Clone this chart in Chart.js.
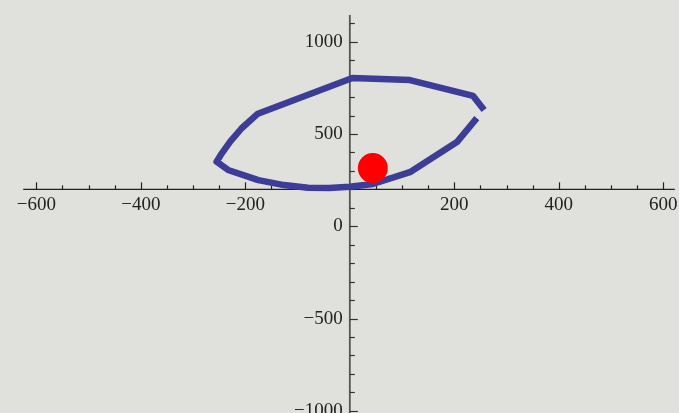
<!DOCTYPE html>
<html>
<head>
<meta charset="utf-8">
<script src="https://cdn.jsdelivr.net/npm/chart.js@4"></script>
<style>
  html, body { margin: 0; padding: 0; background: #e0e1dc; }
  #wrap { width: 679px; height: 413px; position: relative; }
</style>
</head>
<body>
<div id="wrap"><canvas id="chart"></canvas></div>
<script>
// Curve samples (x, y), traced from the upper right end round to the lower right end
const curveX = [257, 236, 115, 5, -176, -207, -229, -245, -255, -233, -175, -126, -80, -40, 0, 44, 115, 205, 243];
const curveY = [630, 706, 792, 803, 610, 531, 458, 395, 350, 305, 250, 223, 209, 207, 214, 229, 293, 456, 586];

// The red marker
const pointX = [44];
const pointY = [315];

// Axis ticks and labels
const xTicks = [-600, -400, -200, 200, 400, 600];
const xTickLabels = ["\u2212600", "\u2212400", "\u2212200", "200", "400", "600"];
const yTicks = [-1000, -500, 0, 500, 1000];
const yTickLabels = ["\u22121000", "\u2212500", "0", "500", "1000"];

const axisOrigin = { x: 0, y: 200 };

// Axes drawn through the chart's own scales, crossing at (0, 200)
const axesPlugin = {
  id: "axes",
  beforeDatasetsDraw(chart) {
    const { ctx } = chart;
    const xs = chart.scales.x;
    const ys = chart.scales.y;
    const ax = xs.getPixelForValue(axisOrigin.x);
    const ay = ys.getPixelForValue(axisOrigin.y);

    ctx.save();
    // x axis line
    ctx.strokeStyle = "#222";
    ctx.lineWidth = 1.2;
    ctx.beginPath();
    ctx.moveTo(xs.getPixelForValue(-625), ay);
    ctx.lineTo(xs.getPixelForValue(622), ay);
    ctx.stroke();

    // x ticks every 50, majors every 200
    for (let v = -600; v <= 600; v += 50) {
      if (v === 0) continue;
      const px = Math.round(xs.getPixelForValue(v)) + 0.5;
      const len = v % 200 === 0 ? 7 : 4;
      ctx.beginPath();
      ctx.moveTo(px, ay);
      ctx.lineTo(px, ay - len);
      ctx.stroke();
    }

    // y axis line
    ctx.strokeStyle = "#555";
    ctx.lineWidth = 1.8;
    ctx.beginPath();
    ctx.moveTo(ax, ys.getPixelForValue(1145));
    ctx.lineTo(ax, chart.height);
    ctx.stroke();

    // y ticks every 100, majors every 500
    ctx.strokeStyle = "#333";
    ctx.lineWidth = 1.2;
    for (let v = -1000; v <= 1100; v += 100) {
      const py = Math.round(ys.getPixelForValue(v)) + 0.5;
      const len = v % 500 === 0 ? 8 : 5;
      ctx.beginPath();
      ctx.moveTo(ax, py);
      ctx.lineTo(ax + len, py);
      ctx.stroke();
    }

    // labels
    ctx.fillStyle = "#222";
    ctx.font = "19px 'Liberation Serif', 'DejaVu Serif', serif";
    ctx.textAlign = "center";
    ctx.textBaseline = "middle";
    xTicks.forEach((v, i) => {
      ctx.fillText(xTickLabels[i], xs.getPixelForValue(v), ay + 16);
    });
    ctx.textAlign = "right";
    yTicks.forEach((v, i) => {
      ctx.fillText(yTickLabels[i], ax - 7, ys.getPixelForValue(v));
    });
    ctx.restore();
  },
};

const ctx = document.getElementById("chart").getContext("2d");

new Chart(ctx, {
  type: "scatter",
  data: {
    datasets: [
      {
        data: pointX.map((x, i) => ({ x, y: pointY[i] })),
        backgroundColor: "#ff0000",
        borderWidth: 0,
        pointRadius: 15,
      },
      {
        data: curveX.map((x, i) => ({ x, y: curveY[i] })),
        showLine: true,
        borderColor: "#3c3c99",
        borderWidth: 6.5,
        borderJoinStyle: "round",
        pointRadius: 0,
        tension: 0,
      },
    ],
  },
  options: {
    responsive: true,
    maintainAspectRatio: false,
    animation: false,
    layout: { padding: 0, autoPadding: false },
    scales: {
      x: { type: "linear", min: -669.5, max: 630, display: false },
      y: { type: "linear", min: -1012, max: 1226, display: false },
    },
    plugins: {
      legend: { display: false },
      tooltip: { enabled: false },
    },
  },
  plugins: [axesPlugin],
});
</script>
</body>
</html>
